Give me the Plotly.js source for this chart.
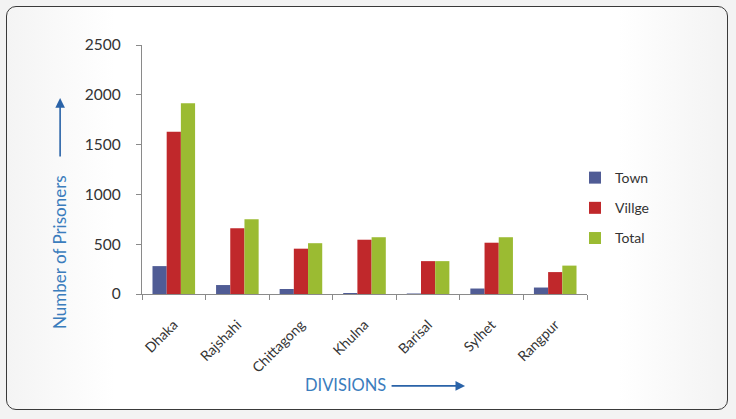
<!DOCTYPE html>
<html><head><meta charset="utf-8">
<script src="https://cdn.plot.ly/plotly-3.0.1.min.js"></script>
<style>
html,body{margin:0;padding:0;background:#f3f3f3;}
#wrap{position:relative;width:736px;height:419px;overflow:hidden;background:#f3f3f3;}
#frame{position:absolute;left:6px;top:6px;width:720px;height:402px;border:1.5px solid #3a3a3a;border-radius:10px;background:linear-gradient(90deg,#f4f4f4 0%,#ffffff 15%,#ffffff 85%,#f3f3f3 100%);}
#chart{position:absolute;left:0;top:0;width:736px;height:419px;}
</style></head>
<body>
<div id="wrap"><div id="frame"></div><div id="chart"></div></div>
<script>
const divisions = ["Dhaka","Rajshahi","Chittagong","Khulna","Barisal","Sylhet","Rangpur"];
const town    = [280, 90, 50, 10, 5, 55, 65];
const village = [1630, 660, 455, 545, 330, 515, 220];
const total   = [1915, 750, 510, 570, 330, 570, 285];
const seriesNames = ["Town","Villge","Total"];
const colors = ["#505c95","#c0282b","#9bbb32"];
const yTicks = [0,500,1000,1500,2000,2500];

const font = "Lato, 'Open Sans', sans-serif";
const data = [town, village, total].map((vals,i)=>({
  type:"bar", x:divisions, y:vals, name:seriesNames[i], legendgroup:"g"+i,
  marker:{color:colors[i]}
}));

const layout = {
  width:736, height:419,
  paper_bgcolor:"rgba(0,0,0,0)", plot_bgcolor:"rgba(0,0,0,0)",
  margin:{l:142, r:149, t:45, b:125},
  barmode:"group", bargap:0.33, bargroupgap:0,
  font:{family:font, size:12, color:"#333"},
  xaxis:{type:"category", showline:true, linecolor:"#8a8a8a", linewidth:1.2,
    ticks:"outside", tickson:"boundaries", ticklen:5, tickcolor:"#8a8a8a",
    tickangle:-45, tickfont:{size:14, color:"#333"}, ticklabelstandoff:16,
    showgrid:false, zeroline:false},
  yaxis:{range:[0,2500], tickvals:yTicks, ticktext:yTicks.map(String), showline:true, linecolor:"#8a8a8a", linewidth:1.2,
    ticks:"outside", ticklen:5, tickcolor:"#8a8a8a", showgrid:false, zeroline:false,
    tickfont:{size:15.5, color:"#333"}, ticklabelstandoff:12},
  showlegend:true,
  legend:{x:0.973, y:0.53, xanchor:"left", yanchor:"top", font:{size:14, color:"#333"},
    traceorder:"grouped", tracegroupgap:9, bgcolor:"rgba(0,0,0,0)", itemwidth:30},
  annotations:[
    {text:"Number of Prisoners", xref:"paper", yref:"paper", x:-0.184, y:0.169, textangle:-90,
     xanchor:"center", yanchor:"middle",
     showarrow:false, font:{size:17, color:"#3b7dbd", family:font}},
    {text:"", xref:"paper", yref:"paper", x:-0.184, y:0.787, ax:0, ay:60, showarrow:true,
     arrowhead:2, arrowsize:1.2, arrowwidth:1.6, arrowcolor:"#2a63a8"},
    {text:"DIVISIONS", xref:"paper", yref:"paper", x:0.458, y:-0.365, xanchor:"center", yanchor:"middle",
     showarrow:false, font:{size:16.5, color:"#3b7dbd", family:font}},
    {text:"", xref:"paper", yref:"paper", x:0.726, y:-0.369, ax:-75, ay:0, showarrow:true,
     arrowhead:2, arrowsize:1.2, arrowwidth:1.6, arrowcolor:"#2a63a8"}
  ]
};
Plotly.newPlot("chart", data, layout, {displayModeBar:false, staticPlot:true});
</script>
</body></html>
